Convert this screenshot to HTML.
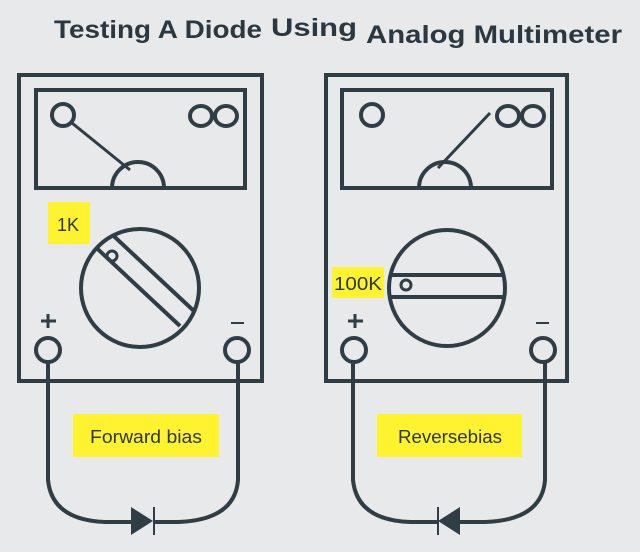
<!DOCTYPE html>
<html><head><style>
body{margin:0;background:#e8e9eb;}
svg{display:block}
text{font-family:"Liberation Sans",sans-serif;fill:#2b3840}
</style></head><body>
<svg width="640" height="552" viewBox="0 0 640 552" xmlns="http://www.w3.org/2000/svg">
<defs>
<clipPath id="c1"><circle cx="140" cy="288" r="59"/></clipPath>
</defs>
<rect width="640" height="552" fill="#e8e9eb"/>
<text x="54" y="38" font-size="25" font-weight="bold" textLength="208" lengthAdjust="spacingAndGlyphs">Testing A Diode</text>
<text x="271" y="36" font-size="25" font-weight="bold" textLength="86" lengthAdjust="spacingAndGlyphs">Using</text>
<text x="366" y="43" font-size="25" font-weight="bold" textLength="256" lengthAdjust="spacingAndGlyphs">Analog Multimeter</text>
<g fill="none" stroke="#2f3d45" stroke-width="4">
<rect x="19" y="75" width="243" height="306"/>
<rect x="36" y="90" width="209" height="98"/>
<circle cx="63" cy="115" r="11"/>
<path d="M72 123 L130 170" stroke-width="3"/>
<path d="M112 188 A26 26 0 0 1 164 188"/>
<circle cx="140" cy="288" r="59"/>
<g clip-path="url(#c1)">
<path d="M88 240 L180 326 M103 226 L195 312"/>
</g>
<circle cx="112" cy="256" r="5" stroke-width="3"/>
<path d="M48 314 V328 M41 321 H56" stroke-width="3"/>
<path d="M231 323 H244" stroke-width="2"/>
<circle cx="48" cy="350" r="12"/>
<circle cx="237" cy="350" r="12"/>
<path d="M48 362 V480 Q52 520 105 522 H131 M153 522 H178 Q235 520 238 480 V362"/>
<rect x="326" y="75" width="241" height="306"/>
<rect x="342" y="90" width="210" height="98"/>
<circle cx="372" cy="115" r="11"/>
<path d="M490 113 L438 168" stroke-width="3"/>
<path d="M419 188 A26 26 0 0 1 471 188"/>
<circle cx="447" cy="288" r="58"/>
<path d="M389 275 H504 M389 297 H504"/>
<circle cx="406" cy="285" r="5" stroke-width="3"/>
<path d="M355 314 V328 M348 321 H363" stroke-width="3"/>
<path d="M536 323 H549" stroke-width="2"/>
<circle cx="354" cy="350" r="12"/>
<circle cx="543" cy="350" r="12"/>
<path d="M353 362 V480 Q357 520 410 522 H438 M460 522 H485 Q542 520 545 480 V362"/>
<ellipse cx="201" cy="116" rx="11" ry="10"/>
<ellipse cx="226" cy="116" rx="11" ry="10"/>
<ellipse cx="508" cy="116" rx="11" ry="10"/>
<ellipse cx="533" cy="116" rx="11" ry="10"/>
</g>
<path d="M131 507 L153 521 L131 535 Z" fill="#2f3d45"/>
<path d="M154 507 V535" stroke="#2f3d45" stroke-width="2"/>
<path d="M460 507 L438 521 L460 535 Z" fill="#2f3d45"/>
<path d="M438 507 V535" stroke="#2f3d45" stroke-width="2"/>
<rect x="48" y="202" width="42" height="42" fill="#fff22e"/>
<text x="57" y="231" font-size="18">1K</text>
<rect x="332" y="267" width="52" height="31" fill="#fff22e"/>
<text x="334" y="290" font-size="18" textLength="48" lengthAdjust="spacingAndGlyphs">100K</text>
<rect x="73" y="414" width="146" height="43" fill="#fff22e"/>
<text x="146" y="443" font-size="18" text-anchor="middle" textLength="112" lengthAdjust="spacingAndGlyphs">Forward bias</text>
<rect x="377" y="414" width="145" height="43" fill="#fff22e"/>
<text x="450" y="443" font-size="18" text-anchor="middle" textLength="104" lengthAdjust="spacingAndGlyphs">Reversebias</text>
</svg>
</body></html>
